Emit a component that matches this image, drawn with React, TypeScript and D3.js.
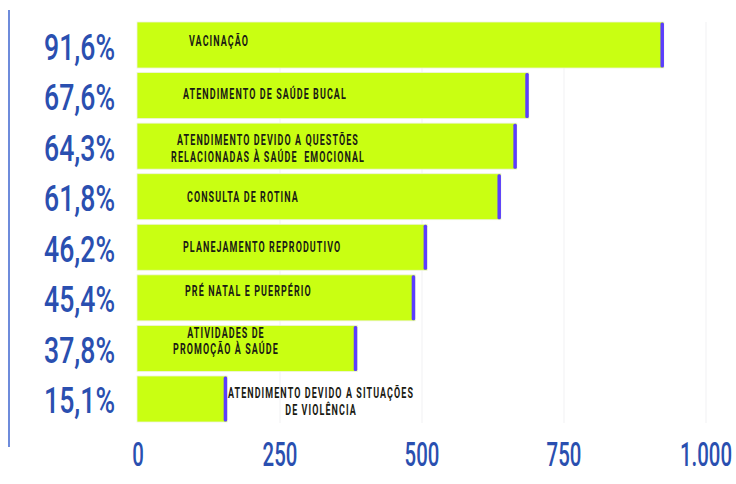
import React from "react";
import * as d3 from "d3";

const categories = [
  "VACINAÇÃO",
  "ATENDIMENTO DE SAÚDE BUCAL",
  "ATENDIMENTO DEVIDO A QUESTÕES|RELACIONADAS À SAÚDE  EMOCIONAL",
  "CONSULTA DE ROTINA",
  "PLANEJAMENTO REPRODUTIVO",
  "PRÉ NATAL E PUERPÉRIO",
  "ATIVIDADES DE|PROMOÇÃO À SAÚDE",
  "ATENDIMENTO DEVIDO A SITUAÇÕES|DE VIOLÊNCIA",
];
const values = [926, 688, 667, 639, 509, 488, 386, 157];
const percentLabels = ["91,6%", "67,6%", "64,3%", "61,8%", "46,2%", "45,4%", "37,8%", "15,1%"];
const tickValues = [0, 250, 500, 750, 1000];
const tickLabels = ["0", "250", "500", "750", "1.000"];

// label layout: anchor, x (px), vertical offset of first line's centre from bar centre
const labelLayout: { anchor: "start" | "middle"; x: number; dy: number }[] = [
  { anchor: "start", x: 189, dy: -4 },
  { anchor: "start", x: 183, dy: -1.5 },
  { anchor: "middle", x: 268, dy: -6 },
  { anchor: "start", x: 187, dy: 0 },
  { anchor: "start", x: 183, dy: 0 },
  { anchor: "start", x: 185, dy: -7 },
  { anchor: "middle", x: 226, dy: -15.5 },
  { anchor: "middle", x: 321, dy: -5.5 },
];

const W = 736;
const H = 484;
const BLUE = "#2a4fb0";
const GREEN = "#c9ff12";
const PURPLE = "#5b3dff";

export default function App() {
  const x = d3.scaleLinear().domain([0, 1000]).range([138, 706]);
  const y = d3
    .scaleBand<number>()
    .domain(d3.range(categories.length))
    .range([22, 422])
    .paddingInner(0.09)
    .paddingOuter(0);
  const bw = y.bandwidth();

  return (
    <svg
      width={W}
      height={H}
      style={{ position: "absolute", left: 0, top: 0, background: "#fff" }}
    >
      <rect width={W} height={H} fill="#fff" />
      {/* grid lines */}
      {tickValues.slice(1).map((t) => (
        <line
          key={t}
          x1={x(t)}
          x2={x(t)}
          y1={22}
          y2={423}
          stroke="#f1f1f3"
          strokeWidth={1}
        />
      ))}
      {/* left blue line */}
      <line x1={9} x2={9} y1={10} y2={447} stroke="#4a6fd2" strokeWidth={1.6} />

      {values.map((v, i) => {
        const y0 = y(i)!;
        const x1 = x(v);
        return (
          <g key={i}>
            <rect
              x={x(0) - 1}
              y={y0}
              width={x1 - x(0) + 1}
              height={bw}
              fill={GREEN}
              stroke="#eef3e0"
              strokeWidth={0.8}
            />
            <rect x={x1 - 3.5} y={y0 + 0.5} width={3.5} height={bw - 1} rx={1.5} fill={PURPLE} />
          </g>
        );
      })}

      {/* bar labels */}
      {categories.map((c, i) => {
        const lines = c.split("|");
        const L = labelLayout[i];
        const cy = y(i)! + bw / 2 + L.dy;
        return (
          <g key={c}>
            {lines.map((ln, j) => (
              <text
                key={j}
                transform={`translate(${L.x},${cy + j * 16.5 + 5}) scale(0.64,1)`}
                textAnchor={L.anchor}
                fontFamily="Roboto, 'DejaVu Sans', sans-serif"
                fontWeight={700}
                fontSize={14}
                letterSpacing={1.7}
                fill="#1b1b14"
                style={{ whiteSpace: "pre" }}
              >
                {ln}
              </text>
            ))}
          </g>
        );
      })}

      {/* percent labels */}
      {percentLabels.map((p, i) => (
        <text
          key={p}
          transform={`translate(115,${y(i)! + bw / 2 + 14.5}) scale(0.72,1)`}
          textAnchor="end"
          fontFamily="Roboto, 'DejaVu Sans', sans-serif"
          fontWeight={500}
          fontSize={37}
          fill={BLUE}
        >
          {p}
        </text>
      ))}

      {/* x tick labels */}
      {tickValues.map((t, i) => (
        <text
          key={t}
          transform={`translate(${x(t)},466) scale(0.6,1)`}
          textAnchor="middle"
          fontFamily="Roboto, 'DejaVu Sans', sans-serif"
          fontWeight={500}
          fontSize={34}
          fill={BLUE}
        >
          {tickLabels[i]}
        </text>
      ))}
    </svg>
  );
}
